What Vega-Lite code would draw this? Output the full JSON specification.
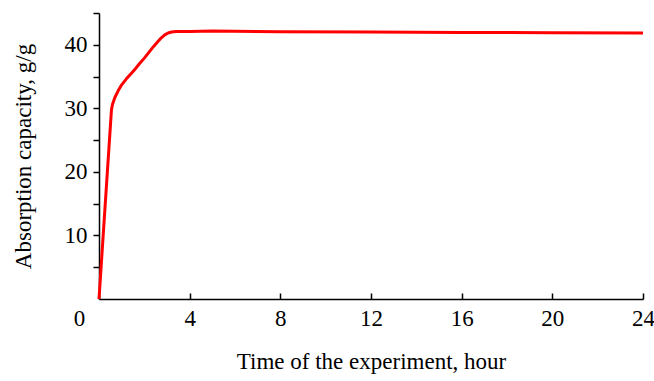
{
  "$schema": "https://vega.github.io/schema/vega-lite/v6.json",
  "width": 544,
  "height": 286,
  "autosize": {"type": "none"},
  "padding": {"left": 99, "top": 13, "right": 11, "bottom": 82},
  "background": "white",
  "config": {
    "view": {"stroke": null},
    "font": "Liberation Serif",
    "axis": {
      "grid": false,
      "domainColor": "black",
      "tickColor": "black",
      "domainWidth": 1.5,
      "tickWidth": 1.5,
      "labelColor": "black",
      "titleColor": "black",
      "labelFont": "Liberation Serif",
      "titleFont": "Liberation Serif",
      "labelFontSize": 23,
      "titleFontSize": 23,
      "titleFontWeight": "normal"
    }
  },
  "data": {
    "values": [
      {"t": 0, "c": 0},
      {"t": 0.55, "c": 29.8},
      {"t": 0.6, "c": 30.7},
      {"t": 0.7, "c": 31.7},
      {"t": 0.85, "c": 32.8},
      {"t": 1.0, "c": 33.7},
      {"t": 1.2, "c": 34.6},
      {"t": 1.4, "c": 35.4},
      {"t": 1.6, "c": 36.2},
      {"t": 1.8, "c": 37.1},
      {"t": 2.0, "c": 37.9},
      {"t": 2.2, "c": 38.8},
      {"t": 2.4, "c": 39.7},
      {"t": 2.6, "c": 40.5},
      {"t": 2.75, "c": 41.1},
      {"t": 2.9, "c": 41.55},
      {"t": 3.05, "c": 41.85},
      {"t": 3.2, "c": 42.0},
      {"t": 3.4, "c": 42.1},
      {"t": 4, "c": 42.1},
      {"t": 5, "c": 42.15},
      {"t": 8, "c": 42.05},
      {"t": 12, "c": 42.0},
      {"t": 16, "c": 41.95},
      {"t": 20, "c": 41.9},
      {"t": 24, "c": 41.85}
    ]
  },
  "mark": {"type": "line", "color": "#ff0000", "strokeWidth": 3, "interpolate": "linear", "strokeJoin": "round", "clip": false},
  "encoding": {
    "x": {
      "field": "t",
      "type": "quantitative",
      "scale": {"domain": [0, 24], "nice": false, "zero": false},
      "axis": {
        "title": "Time of the experiment, hour",
        "values": [0, 4, 8, 12, 16, 20, 24],
        "tickSize": -6,
        "labelPadding": 14,
        "labelOffset": {"condition": {"test": "datum.value === 0", "value": -20}, "value": 0},
        "labelFlush": false,
        "labelOverlap": false,
        "titlePadding": 20
      }
    },
    "y": {
      "field": "c",
      "type": "quantitative",
      "scale": {"domain": [0, 45], "nice": false},
      "axis": {
        "title": "Absorption capacity, g/g",
        "values": [5, 10, 15, 20, 25, 30, 35, 40, 45],
        "labelExpr": "datum.value % 10 === 0 ? datum.label : ''",
        "tickSize": 6,
        "labelPadding": 6,
        "labelFlush": false,
        "labelOverlap": false,
        "titlePadding": 29
      }
    }
  }
}
